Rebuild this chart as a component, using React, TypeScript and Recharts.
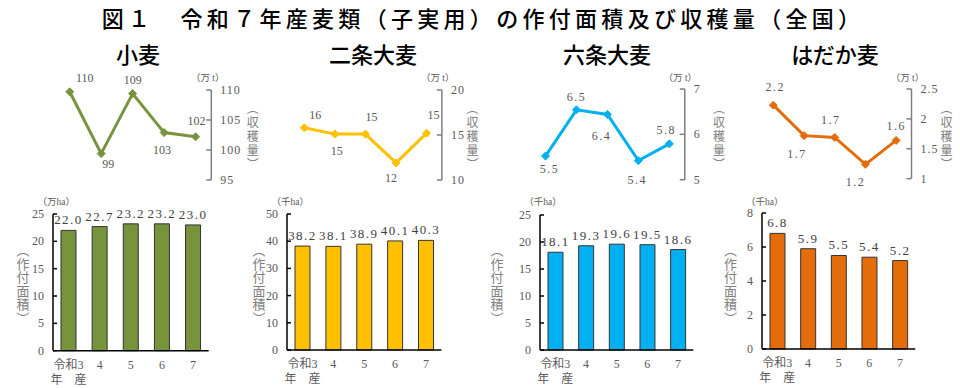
import React from "react";
import { LineChart, Line, BarChart, Bar, XAxis, YAxis, LabelList } from "recharts";

const SERIF = "'Liberation Serif', 'Noto Sans CJK JP', serif";
const SANS = "'Noto Sans CJK JP', 'Noto Sans', sans-serif";

const YEARS = ["3", "4", "5", "6", "7"];

// 収穫量 (万t)
const WHEAT_HARVEST = [109.7, 99.4, 109.4, 102.9, 102.2];
const TWO_ROW_HARVEST = [15.8, 15.1, 15.1, 11.9, 15.2];
const SIX_ROW_HARVEST = [5.52, 6.54, 6.44, 5.42, 5.79];
const NAKED_HARVEST = [2.23, 1.72, 1.69, 1.24, 1.64];

// 作付面積
const WHEAT_AREA = [22.0, 22.7, 23.2, 23.2, 23.0];
const TWO_ROW_AREA = [38.2, 38.1, 38.9, 40.1, 40.3];
const SIX_ROW_AREA = [18.1, 19.3, 19.6, 19.5, 18.6];
const NAKED_AREA = [6.8, 5.9, 5.5, 5.4, 5.2];

const WHEAT_H_TICKS = [95, 100, 105, 110];
const TWO_ROW_H_TICKS = [10, 15, 20];
const SIX_ROW_H_TICKS = [5, 6, 7];
const NAKED_H_TICKS = [1, 1.5, 2, 2.5];

const WHEAT_A_TICKS = [0, 5, 10, 15, 20, 25];
const TWO_ROW_A_TICKS = [0, 10, 20, 30, 40, 50];
const SIX_ROW_A_TICKS = [0, 5, 10, 15, 20, 25];
const NAKED_A_TICKS = [0, 2, 4, 6, 8];

const PANELS = [
  {
    name: "小麦",
    color: "#77933C",
    harvest: WHEAT_HARVEST,
    area: WHEAT_AREA,
    hTicks: WHEAT_H_TICKS,
    aTicks: WHEAT_A_TICKS,
    digits: 0,
    areaUnit: "（万ha）",
    titleX: 138,
    line: { x0: 54.4, x1: 211.7, y0: 90, y1: 180 },
    bar: { x0: 53.3, x1: 209, y0: 214.3, y1: 351 },
    hLabelX: 252.3,
    aLabelX: 23,
    offsets: [[15, -14], [7, 10], [0, -14], [-2, 17], [1, -16]],
  },
  {
    name: "二条大麦",
    color: "#FFC000",
    harvest: TWO_ROW_HARVEST,
    area: TWO_ROW_AREA,
    hTicks: TWO_ROW_H_TICKS,
    aTicks: TWO_ROW_A_TICKS,
    digits: 0,
    areaUnit: "（千ha）",
    titleX: 373,
    line: { x0: 288.8, x1: 441.7, y0: 90, y1: 180 },
    bar: { x0: 287.3, x1: 441.7, y0: 214, y1: 350 },
    hLabelX: 472,
    aLabelX: 259,
    offsets: [[11, -13], [2, 17], [6, -17], [-5, 15], [7, -18]],
  },
  {
    name: "六条大麦",
    color: "#00B0F0",
    harvest: SIX_ROW_HARVEST,
    area: SIX_ROW_AREA,
    hTicks: SIX_ROW_H_TICKS,
    aTicks: SIX_ROW_A_TICKS,
    digits: 1,
    areaUnit: "（千ha）",
    titleX: 607,
    line: { x0: 529.5, x1: 684.3, y0: 89.3, y1: 180 },
    bar: { x0: 540, x1: 693.3, y0: 215, y1: 350 },
    hLabelX: 718.5,
    aLabelX: 497,
    offsets: [[4, 13], [0, -13], [-6, 22], [-1, 19], [-3, -14]],
  },
  {
    name: "はだか麦",
    color: "#E46C0A",
    harvest: NAKED_HARVEST,
    area: NAKED_AREA,
    hTicks: NAKED_H_TICKS,
    aTicks: NAKED_A_TICKS,
    digits: 1,
    areaUnit: "（千ha）",
    titleX: 835,
    line: { x0: 758, x1: 911.5, y0: 89.3, y1: 179 },
    bar: { x0: 761.7, x1: 915, y0: 212.7, y1: 348.7 },
    hLabelX: 946,
    aLabelX: 730.5,
    offsets: [[2, -18], [-7, 18], [-4, -17], [-10, 18], [0, -14]],
  },
];

const LineTick = ({ x, y, payload }: any) => (
  <g>
    <line x1={x - 5} x2={x} y1={y} y2={y} stroke="#7f7f7f" strokeWidth={1.5} />
    <text x={x + 9} y={y} dy={4} fill="#595959" fontSize={12} fontFamily={SERIF} letterSpacing={1}>
      {payload.value}
    </text>
  </g>
);

const AreaTick = ({ x, y, payload }: any) => (
  <g>
    <line x1={x} x2={x + 4} y1={y} y2={y} stroke="#000" strokeWidth={1.5} />
    <text x={x - 9} y={y} dy={4} textAnchor="end" fill="#595959" fontSize={12} fontFamily={SERIF}>
      {payload.value}
    </text>
  </g>
);

const YearTick = ({ x, y, payload }: any) => {
  const first = payload.value === YEARS[0];
  return (
    <g fill="#595959" fontSize={12} fontFamily={SERIF}>
      <text x={x} y={y + 18} textAnchor="middle">
        {first ? "令和3" : payload.value}
      </text>
      {first && (
        <text x={x} y={y + 33} textAnchor="middle">
          年　産
        </text>
      )}
    </g>
  );
};

function HarvestChart({ p }: any) {
  const { x0, x1, y0, y1 } = p.line;
  const mL = 30;
  const mT = 25;
  const mB = 25;
  const axW = 45;
  const pad = (x1 - x0) / 10;
  const data = YEARS.map((year, i) => ({ year, v: p.harvest[i] }));

  const renderDot = (props: any) => {
    const { cx, cy, index } = props;
    const [dx, dy] = p.offsets[index];
    const r = 4;
    return (
      <g key={`d-${index}`}>
        <polygon
          points={`${cx},${cy - r} ${cx + r},${cy} ${cx},${cy + r} ${cx - r},${cy}`}
          fill={p.color}
          stroke={p.color}
        />
        <text
          x={cx + dx}
          y={cy + dy}
          dy={4}
          textAnchor="middle"
          fill="#595959"
          fontSize={12}
          fontFamily={SERIF}
          letterSpacing={p.digits ? 1.5 : 0}
        >
          {p.harvest[index].toFixed(p.digits)}
        </text>
      </g>
    );
  };

  return (
    <div style={{ position: "absolute", left: x0 - mL, top: y0 - mT }}>
      <LineChart
        width={x1 - x0 + mL + axW}
        height={y1 - y0 + mT + mB}
        data={data}
        margin={{ top: mT, right: 0, bottom: mB, left: mL }}
        style={{ overflow: "visible" }}
      >
        <XAxis dataKey="year" hide padding={{ left: pad, right: pad }} />
        <YAxis
          orientation="right"
          width={axW}
          type="number"
          domain={[p.hTicks[0], p.hTicks[p.hTicks.length - 1]]}
          ticks={p.hTicks}
          interval={0}
          axisLine={{ stroke: "#7f7f7f", strokeWidth: 1.5 }}
          tickLine={false}
          tickSize={0}
          tickMargin={0}
          tick={<LineTick />}
        />
        <Line
          dataKey="v"
          stroke={p.color}
          strokeWidth={3}
          dot={renderDot}
          activeDot={false}
          isAnimationActive={false}
        />
      </LineChart>
    </div>
  );
}

function AreaChart({ p }: any) {
  const { x0, x1, y0, y1 } = p.bar;
  const axW = 45;
  const mT = 25;
  const mR = 10;
  const xH = 40;
  const data = YEARS.map((year, i) => ({ year, v: p.area[i] }));
  return (
    <div style={{ position: "absolute", left: x0 - axW, top: y0 - mT }}>
      <BarChart
        width={x1 - x0 + axW + mR}
        height={y1 - y0 + mT + xH}
        data={data}
        margin={{ top: mT, right: mR, bottom: 0, left: 0 }}
        style={{ overflow: "visible" }}
      >
        <XAxis
          dataKey="year"
          height={xH}
          interval={0}
          axisLine={{ stroke: "#000", strokeWidth: 1.5 }}
          tickLine={false}
          tickSize={0}
          tickMargin={0}
          tick={<YearTick />}
        />
        <YAxis
          width={axW}
          type="number"
          domain={[0, p.aTicks[p.aTicks.length - 1]]}
          ticks={p.aTicks}
          interval={0}
          axisLine={{ stroke: "#000", strokeWidth: 1.5 }}
          tickLine={false}
          tickSize={0}
          tickMargin={0}
          tick={<AreaTick />}
        />
        <Bar dataKey="v" fill={p.color} stroke="#333" strokeWidth={1} barSize={15} isAnimationActive={false}>
          <LabelList
            dataKey="v"
            position="top"
            offset={6}
            formatter={(v: any) => Number(v).toFixed(1)}
            fill="#404040"
            fontSize={13}
            fontFamily={SERIF}
            letterSpacing={1.5}
          />
        </Bar>
      </BarChart>
    </div>
  );
}

const abs = (style: any) => ({ position: "absolute" as const, whiteSpace: "nowrap" as const, ...style });

export default function App() {
  return (
    <div style={{ position: "absolute", left: 0, top: 0, width: 960, height: 388, background: "#fff", overflow: "hidden" }}>
      <div
        style={abs({
          left: 0,
          width: 966,
          top: 3,
          textAlign: "center",
          fontFamily: SANS,
          fontSize: 22,
          fontWeight: 500,
          letterSpacing: 4.3,
          lineHeight: "28px",
          color: "#000",
        })}
      >
        図１　令和７年産麦類（子実用）の作付面積及び収穫量（全国）
      </div>
      {PANELS.map((p) => (
        <React.Fragment key={p.name}>
          <div
            style={abs({
              left: p.titleX - 60,
              width: 120,
              top: 39,
              textAlign: "center",
              fontFamily: SANS,
              fontSize: 22,
              fontWeight: 500,
              lineHeight: "28px",
              color: "#000",
            })}
          >
            {p.name}
          </div>
          <HarvestChart p={p} />
          <AreaChart p={p} />
          <div
            style={abs({
              left: p.line.x1 - 34,
              width: 60,
              top: 73,
              textAlign: "center",
              fontFamily: SERIF,
              fontSize: 9.5,
              lineHeight: "10px",
              color: "#595959",
            })}
          >
            （万 t）
          </div>
          <div
            style={abs({
              left: p.bar.x0 - 27,
              width: 60,
              top: 196,
              textAlign: "center",
              fontFamily: SERIF,
              fontSize: 9.5,
              lineHeight: "12px",
              color: "#595959",
            })}
          >
            {p.areaUnit}
          </div>
          <div
            style={abs({
              left: p.hLabelX - 6,
              top: 101.7,
              width: 12,
              writingMode: "vertical-rl",
              fontFamily: SANS,
              fontSize: 12,
              lineHeight: "12px",
              letterSpacing: 2,
              color: "#808080",
            })}
          >
            （収穫量）
          </div>
          <div
            style={abs({
              left: p.aLabelX - 6.5,
              top: 244,
              width: 13,
              writingMode: "vertical-rl",
              fontFamily: SANS,
              fontSize: 13,
              lineHeight: "13px",
              letterSpacing: 0.5,
              color: "#808080",
            })}
          >
            （作付面積）
          </div>
        </React.Fragment>
      ))}
    </div>
  );
}
